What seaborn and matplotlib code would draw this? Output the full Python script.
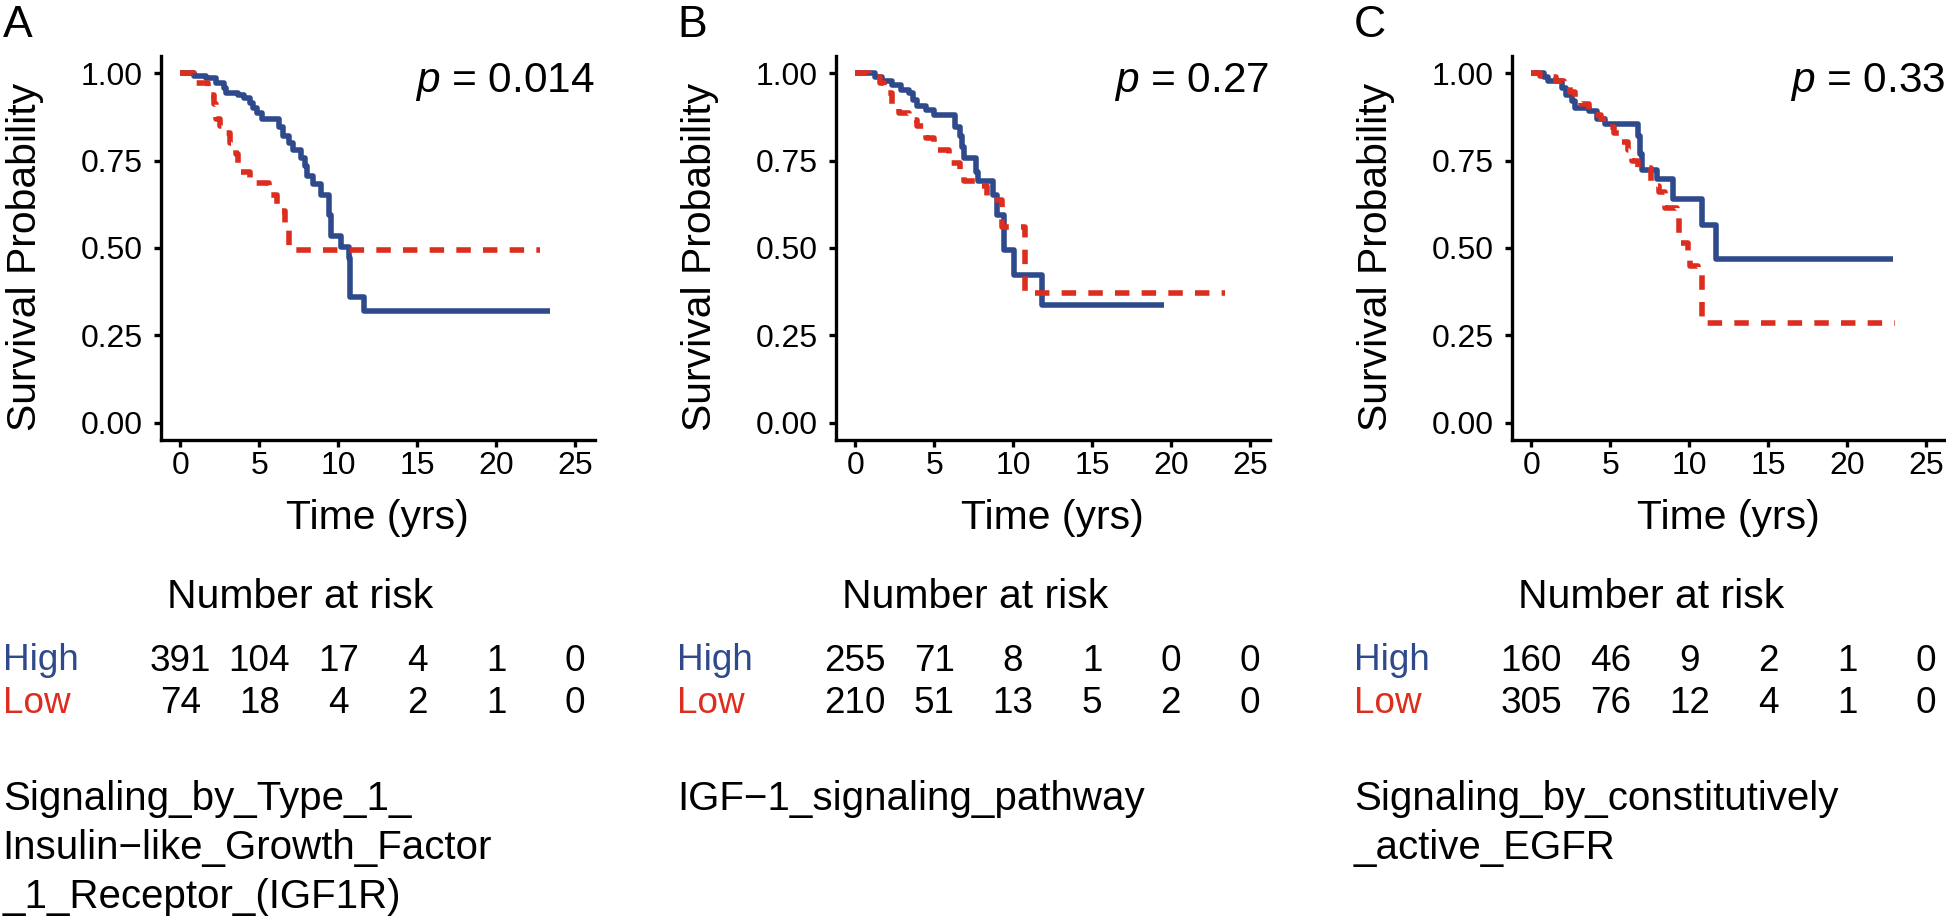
import matplotlib
matplotlib.use('Agg')
import matplotlib.pyplot as plt
import matplotlib.transforms as mtransforms
import numpy as np
import pandas as pd
import seaborn as sns

# --- data --------------------------------------------------------------
a_high_t = [0, 0.88, 1.63, 2.25, 2.76, 2.88, 3.63, 4.0, 4.38, 4.63, 4.88, 5.14, 6.26, 6.51,
            6.89, 7.14, 7.64, 7.89, 8.02, 8.39, 8.89, 9.39, 9.52, 10.15, 10.65, 10.77, 11.65, 23.4]
a_high_s = [1.0, 0.993, 0.985, 0.972, 0.957, 0.944, 0.937, 0.930, 0.916, 0.901, 0.886, 0.870, 0.845, 0.819,
            0.799, 0.779, 0.758, 0.733, 0.707, 0.682, 0.651, 0.595, 0.534, 0.503, 0.472, 0.360, 0.319, 0.319]
a_low_t = [0, 0.88, 1.75, 2.13, 2.25, 2.5, 2.88, 3.13, 3.51, 3.63, 4.38, 5.64, 6.14, 6.64, 6.89, 22.8]
a_low_s = [1.0, 0.972, 0.937, 0.911, 0.870, 0.850, 0.830, 0.799, 0.768, 0.717, 0.687, 0.651, 0.605, 0.554, 0.495, 0.495]

b_high_t = [0, 1.28, 1.68, 2.35, 2.88, 3.41, 3.68, 3.94, 4.48, 5.01, 6.34, 6.61, 6.74, 6.88, 7.68,
            7.81, 8.74, 9.01, 9.41, 10.07, 11.81, 19.54]
b_high_s = [1.0, 0.988, 0.978, 0.967, 0.952, 0.942, 0.922, 0.906, 0.896, 0.881, 0.845, 0.819, 0.789, 0.758, 0.717,
            0.692, 0.651, 0.595, 0.493, 0.421, 0.335, 0.335]
b_low_t = [0, 0.88, 1.55, 1.81, 2.35, 2.75, 3.41, 3.94, 4.48, 5.01, 5.94, 6.61, 6.88, 7.94, 8.34, 9.27, 10.74, 23.4]
b_low_s = [1.0, 0.988, 0.972, 0.942, 0.911, 0.886, 0.865, 0.850, 0.814, 0.779, 0.743, 0.707, 0.692, 0.677, 0.636,
           0.559, 0.370, 0.370]

c_high_t = [0, 0.78, 1.04, 1.95, 2.21, 2.6, 2.73, 3.65, 4.17, 4.69, 6.77, 6.9, 7.03, 7.94, 8.98, 10.81, 11.72, 22.92]
c_high_s = [1.0, 0.988, 0.978, 0.957, 0.937, 0.921, 0.901, 0.891, 0.870, 0.855, 0.819, 0.768, 0.722, 0.697, 0.641,
            0.564, 0.467, 0.467]
c_low_t = [0, 0.52, 1.3, 1.56, 2.08, 2.47, 2.73, 3.13, 3.65, 4.04, 4.43, 4.82, 5.21, 5.73, 6.12, 6.38, 6.77,
           7.55, 8.07, 8.46, 9.24, 9.38, 9.9, 10.03, 10.55, 10.81, 23.05]
c_low_s = [1.0, 0.993, 0.988, 0.978, 0.962, 0.947, 0.927, 0.911, 0.891, 0.881, 0.870, 0.845, 0.830, 0.804, 0.779,
           0.748, 0.728, 0.677, 0.661, 0.615, 0.585, 0.513, 0.472, 0.447, 0.432, 0.286, 0.286]

risk_times = [0, 5, 10, 15, 20, 25]
a_risk_high = [391, 104, 17, 4, 1, 0]
a_risk_low = [74, 18, 4, 2, 1, 0]
b_risk_high = [255, 71, 8, 1, 0, 0]
b_risk_low = [210, 51, 13, 5, 2, 0]
c_risk_high = [160, 46, 9, 2, 1, 0]
c_risk_low = [305, 76, 12, 4, 1, 0]

panel_letters = ['A', 'B', 'C']
p_values = ['0.014', '0.27', '0.33']
pathway_names = [
    ['Signaling_by_Type_1_', 'Insulin\u2212like_Growth_Factor', '_1_Receptor_(IGF1R)'],
    ['IGF\u22121_signaling_pathway'],
    ['Signaling_by_constitutively', '_active_EGFR'],
]

curves = [
    (a_high_t, a_high_s, a_low_t, a_low_s),
    (b_high_t, b_high_s, b_low_t, b_low_s),
    (c_high_t, c_high_s, c_low_t, c_low_s),
]
risks = [(a_risk_high, a_risk_low), (b_risk_high, b_risk_low), (c_risk_high, c_risk_low)]

BLUE = '#2E4A8C'
RED = '#DC2D1E'
palette = {'High': BLUE, 'Low': RED}
dashes = {'High': '', 'Low': (2.6, 2.2)}

# --- layout (pixels) ------------------------------------------------------
W, H = 1946, 918
sns.set_style('ticks')
plt.rcParams['font.family'] = ['Liberation Sans', 'DejaVu Sans']
plt.rcParams['mathtext.fontset'] = 'custom'
plt.rcParams['mathtext.it'] = 'Liberation Sans:italic'
plt.rcParams['mathtext.rm'] = 'Liberation Sans'
for k in ['text.color', 'axes.labelcolor', 'xtick.color', 'ytick.color', 'axes.edgecolor']:
    plt.rcParams[k] = 'black'

fig = plt.figure(figsize=(W / 100, H / 100), dpi=100)


def fy(px):
    return 1 - px / H


ax_left = [160.7, 835.5, 1511.7]
ax_w = 434
ax_top, ax_bot = 55.7, 440

for i in range(3):
    left = ax_left[i]
    ax = fig.add_axes([left / W, fy(ax_bot), ax_w / W, (ax_bot - ax_top) / H])
    ht, hs, lt, ls = curves[i]
    df = pd.concat([
        pd.DataFrame({'time': ht, 'surv': hs, 'group': 'High'}),
        pd.DataFrame({'time': lt, 'surv': ls, 'group': 'Low'}),
    ], ignore_index=True)
    sns.lineplot(data=df, x='time', y='surv', hue='group', style='group',
                 palette=palette, dashes=dashes, drawstyle='steps-post',
                 estimator=None, legend=False, lw=4.0, ax=ax,
                 solid_capstyle='butt', dash_capstyle='butt')
    ax.set_xlim(-1.25, 26.25)
    ax.set_ylim(-0.05, 1.05)
    ax.set_xticks(risk_times)
    ax.set_yticks([0, 0.25, 0.5, 0.75, 1.0])
    ax.set_yticklabels(['0.00', '0.25', '0.50', '0.75', '1.00'])
    ax.set_xlabel('')
    ax.set_ylabel('')
    sns.despine(ax=ax)
    for sp in ['left', 'bottom']:
        ax.spines[sp].set_linewidth(2.4)
        ax.spines[sp].set_color('black')
    ax.tick_params(length=5, width=2.4, labelsize=23, colors='black')
    ax.tick_params(axis='x', pad=3)
    ax.tick_params(axis='y', pad=8)

    tr_x = mtransforms.blended_transform_factory(ax.transData, fig.transFigure)
    tr_a = mtransforms.blended_transform_factory(ax.transAxes, fig.transFigure)

    # p value
    ax.text(1.0, fy(92), f'$p$ = {p_values[i]}', transform=tr_a,
            ha='right', va='baseline', fontsize=30.5, color='black')

    # panel letter
    lab_x = (left - 158) / W
    fig.text(lab_x, fy(37), panel_letters[i], fontsize=32, va='baseline', ha='left')

    # axis titles
    fig.text((left - 124.7) / W, fy(257), 'Survival Probability', rotation=90,
             rotation_mode='anchor', ha='center', va='baseline', fontsize=29.4)
    fig.text((left + ax_w / 2) / W, fy(529), 'Time (yrs)', ha='center',
             va='baseline', fontsize=29.4)

    # number at risk table
    ax.text(7.6, fy(608), 'Number at risk', transform=tr_x, ha='center',
            va='baseline', fontsize=29.4, clip_on=False)
    fig.text(lab_x, fy(670), 'High', color=BLUE, fontsize=26.6, va='baseline')
    fig.text(lab_x, fy(713), 'Low', color=RED, fontsize=26.6, va='baseline')
    rh, rl = risks[i]
    for t, nh, nl in zip(risk_times, rh, rl):
        ax.text(t, fy(671), str(nh), transform=tr_x, ha='center', va='baseline',
                fontsize=26.6, clip_on=False)
        ax.text(t, fy(713), str(nl), transform=tr_x, ha='center', va='baseline',
                fontsize=26.6, clip_on=False)

    # pathway name
    for j, line in enumerate(pathway_names[i]):
        fig.text(lab_x, fy(810 + j * 49), line, fontsize=29, va='baseline', ha='left')

fig.savefig('out.png', dpi=100)
